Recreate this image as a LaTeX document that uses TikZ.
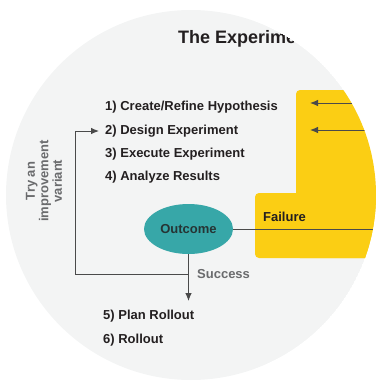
\documentclass[tikz,border=0pt]{standalone}
\usepackage{fontspec}
\setmainfont{Liberation Sans}
\usetikzlibrary{shapes.geometric,arrows.meta}
\definecolor{fond}{HTML}{F3F4F4}
\definecolor{jaune}{HTML}{FBCE14}
\definecolor{sarcelle}{HTML}{37A7A8}
\definecolor{encre}{HTML}{231F20}
\definecolor{trait}{HTML}{4A4A4A}
\definecolor{gris}{HTML}{6A6B6D}
\begin{document}
\begin{tikzpicture}[x=1pt, y=-1pt, >={Latex[length=8pt,width=6.5pt]}]
\tikzstyle{etape} = [anchor=west, inner sep=0pt, text=encre, font=\fontsize{13}{15}\selectfont\bfseries];
\tikzstyle{fil} = [draw=trait, line width=0.9pt];
\useasboundingbox (0,0) rectangle (376,381);
\begin{scope}
\clip (191,195) circle (185);
\fill[fond] (191,195) circle (185);
% zone d'echec
\fill[jaune, rounded corners=4pt] (296,90) rectangle (420,258);
\fill[jaune, rounded corners=4pt] (255,193) rectangle (420,258);
\node[anchor=west, inner sep=0pt, text=encre, font=\fontsize{18}{20}\selectfont\bfseries] (titre) at (178,39) {The Experiment};
\node[etape] (e1) at (105,107) {1) Create/Refine Hypothesis};
\node[etape] (e2) at (105,131) {2) Design Experiment};
\node[etape] (e3) at (105,154) {3) Execute Experiment};
\node[etape] (e4) at (105,177) {4) Analyze Results};
\node[etape] (e5) at (103,316) {5) Plan Rollout};
\node[etape] (e6) at (103,340) {6) Rollout};
\node[etape] (echec) at (263,217) {Failure};
\node[ellipse, fill=sarcelle, minimum width=89pt, minimum height=50pt, inner sep=0pt,
  text=encre!85!sarcelle, font=\fontsize{13}{15}\selectfont\bfseries] (issue) at (188.5,229) {Outcome};
\node[anchor=west, inner sep=0pt, text=gris, font=\fontsize{13}{15}\selectfont\bfseries] (succes) at (197,274) {Success};
\node[rotate=90, align=center, inner sep=0pt, text=gris, font=\fontsize{13}{13.5}\selectfont\bfseries] (essai) at (44,181) {Try an\\improvement\\variant};
\coordinate (d1) at (390,103);
\coordinate (f1) at (310,103);
\coordinate (d2) at (390,130);
\coordinate (f2) at (310,130);
\coordinate (droite) at (390,229);
\coordinate (bas) at (188.5,301);
\coordinate (embr) at (188.5,274);
\coordinate (gauche) at (75,274);
\draw[fil, ->] (d1) -- (f1);
\draw[fil, ->] (d2) -- (f2);
\draw[fil] (issue.east) -- (droite);
\draw[fil, ->] (issue.south) -- (bas);
\draw[fil, ->] (embr) -- (gauche) |- ([xshift=-6pt]e2.west);
\end{scope}
\end{tikzpicture}
\end{document}
